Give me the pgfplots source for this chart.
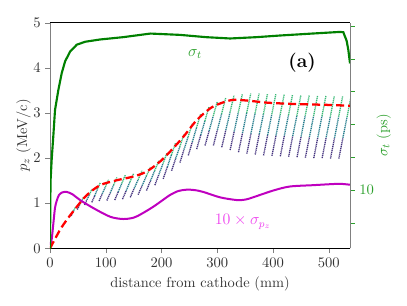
\documentclass[border=0pt]{standalone}
\usepackage{pgfplots}
\pgfplotsset{compat=1.18}
\definecolor{sgreen}{HTML}{008000}
\definecolor{lgreen}{HTML}{2CA02C}
\definecolor{mag}{HTML}{BF00BF}
\definecolor{lmag}{HTML}{EE44EE}
\begin{document}
\begin{tikzpicture}
\path[use as bounding box] (-37.5pt,-42.5pt) rectangle (267.75pt,186.25pt);
\begin{axis}[at={(0,0)}, anchor=south west, scale only axis,
  width=225pt, height=169.2pt,
  xmin=0, xmax=538, ymin=0, ymax=5,
  xtick={0,100,...,500}, ytick={0,1,...,5},
  xtick pos=bottom, ytick pos=left, tick align=outside,
  major tick length=3.5pt,
  separate axis lines,
  x axis line style={black},
  y axis line style={gray},
  ticklabel style={font=\fontsize{10.8}{12}\selectfont, text=black!80},
  label style={font=\fontsize{10.8}{12}\selectfont, text=black!80},
  xlabel={distance from cathode (mm)},
  ylabel={$p_z$ (MeV/c)},
  ylabel shift=-5pt,
  colormap/viridis, point meta min=0, point meta max=1,
  clip=true]
\addplot[mesh, point meta=explicit, line width=1.0pt, dash pattern=on 0.9pt off 0.55pt, unbounded coords=jump]
 table[meta index=2] {
x y m
38 0.72 0.0
40.3 0.78 0.3
42.7 0.84 0.55
45 0.90 0.8
nan nan nan
49 0.86 0.0
52.7 0.95 0.3
56.3 1.04 0.55
60 1.13 0.8
nan nan nan
62 0.96 0.0
66.3 1.08 0.3
70.7 1.19 0.55
75 1.31 0.8
nan nan nan
75 1.02 0.0
80 1.16 0.3
85 1.31 0.55
90 1.45 0.8
nan nan nan
88 1.05 0.0
93.7 1.21 0.3
99.3 1.36 0.55
105 1.52 0.8
nan nan nan
102 1.06 0.0
108 1.23 0.3
114 1.40 0.55
120 1.57 0.8
nan nan nan
116 1.07 0.0
122.3 1.25 0.3
128.7 1.44 0.55
135 1.62 0.8
nan nan nan
130 1.09 0.0
136.7 1.28 0.3
143.3 1.47 0.55
150 1.66 0.8
nan nan nan
144 1.13 0.0
151 1.33 0.3
158 1.52 0.55
165 1.72 0.8
nan nan nan
158 1.19 0.0
165.3 1.39 0.3
172.7 1.60 0.55
180 1.80 0.8
nan nan nan
173 1.28 0.0
180.3 1.50 0.3
187.7 1.72 0.55
195 1.94 0.8
nan nan nan
188 1.40 0.0
195.3 1.64 0.3
202.7 1.88 0.55
210 2.12 0.8
nan nan nan
203 1.54 0.0
210.3 1.80 0.3
217.7 2.07 0.55
225 2.33 0.8
nan nan nan
218 1.72 0.0
225.3 1.99 0.3
232.7 2.25 0.55
240 2.52 0.8
nan nan nan
233 1.90 0.0
240.3 2.19 0.3
247.7 2.47 0.55
255 2.76 0.8
nan nan nan
248 2.06 0.0
255.3 2.36 0.3
262.7 2.67 0.55
270 2.97 0.8
nan nan nan
263 2.20 0.0
270.3 2.51 0.3
277.7 2.82 0.55
285 3.13 0.8
nan nan nan
278 2.28 0.0
285.3 2.60 0.3
292.7 2.93 0.55
300 3.25 0.8
nan nan nan
293 2.28 0.0
300.3 2.63 0.3
307.7 2.98 0.55
315 3.33 0.8
nan nan nan
308 2.24 0.0
315.3 2.62 0.3
322.7 3.01 0.55
330 3.39 0.8
nan nan nan
323 2.18 0.0
330.3 2.59 0.3
337.7 3.01 0.55
345 3.42 0.8
nan nan nan
338 2.13 0.0
345.3 2.56 0.3
352.7 3.00 0.55
360 3.43 0.8
nan nan nan
353 2.10 0.0
360.3 2.54 0.3
367.7 2.99 0.55
375 3.43 0.8
nan nan nan
368 2.08 0.0
375.3 2.53 0.3
382.7 2.97 0.55
390 3.42 0.8
nan nan nan
383 2.06 0.0
390.3 2.51 0.3
397.7 2.97 0.55
405 3.42 0.8
nan nan nan
398 2.05 0.0
405.3 2.50 0.3
412.7 2.96 0.55
420 3.41 0.8
nan nan nan
413 2.04 0.0
420.3 2.50 0.3
427.7 2.95 0.55
435 3.41 0.8
nan nan nan
428 2.03 0.0
435.3 2.49 0.3
442.7 2.94 0.55
450 3.40 0.8
nan nan nan
443 2.02 0.0
450.3 2.48 0.3
457.7 2.94 0.55
465 3.40 0.8
nan nan nan
458 2.01 0.0
465.3 2.47 0.3
472.7 2.93 0.55
480 3.39 0.8
nan nan nan
473 2.00 0.0
480.3 2.46 0.3
487.7 2.93 0.55
495 3.39 0.8
nan nan nan
488 2.00 0.0
495.3 2.46 0.3
502.7 2.92 0.55
510 3.38 0.8
nan nan nan
503 1.99 0.0
510.3 2.45 0.3
517.7 2.92 0.55
525 3.38 0.8
nan nan nan
518 1.99 0.0
525.3 2.45 0.3
532.7 2.91 0.55
540 3.37 0.8
};
\addplot[mag, line width=1.5pt, smooth] coordinates {
(0,0.07) (3,0.2) (6,0.55) (9,0.9) (12,1.05) (16,1.18) (22,1.24) (30,1.25)
(40,1.20) (54,1.07) (78,0.89) (108,0.70) (131,0.65) (150,0.68) (165,0.77)
(185,0.92) (200,1.05) (215,1.18) (230,1.27) (245,1.30) (260,1.29) (275,1.25)
(305,1.13) (335,1.07) (350,1.08) (364,1.13) (400,1.28) (430,1.37) (472,1.40)
(500,1.42) (520,1.43) (538,1.41)};
\addplot[red, line width=1.7pt, dash pattern=on 6pt off 3pt, smooth] coordinates {
(0,0) (3,0.07) (18,0.41) (30,0.63) (48,0.92) (66,1.18) (90,1.40) (120,1.51)
(149,1.59) (173,1.70) (197,1.92) (215,2.14) (239,2.47) (263,2.84) (287,3.10)
(305,3.21) (328,3.29) (358,3.27) (388,3.23) (436,3.20) (496,3.18) (538,3.16)};
\node[text=lgreen, font=\fontsize{11.5}{13}\selectfont] at (axis cs:260,4.30) {$\sigma_t$};
\node[font=\Large\bfseries] at (axis cs:452,4.12) {(a)};
\node[text=lmag, font=\fontsize{11.5}{13}\selectfont] at (axis cs:346,0.59) {$10\times\sigma_{p_z}$};
\end{axis}
\begin{axis}[at={(0,0)}, anchor=south west, scale only axis,
  width=225pt, height=169.2pt,
  xmin=0, xmax=538, ymin=8.222, ymax=15.10,
  axis x line=none, axis y line*=right,
  y axis line style={gray, -},
  tick align=outside, major tick length=3.5pt, minor tick length=3.5pt,
  ytick={10}, minor ytick={9,11,12,13,14,15},
  every tick/.style={lgreen},
  ticklabel style={font=\fontsize{10.8}{12}\selectfont, text=lgreen},
  ylabel style={font=\fontsize{10.8}{12}\selectfont, text=lgreen},
  ylabel={$\sigma_t$ (ps)},
  ylabel shift=-5pt,
  clip=true]
\addplot[sgreen, line width=1.6pt] coordinates {
(0,8.0) (0.5,9.5) (1,10.28) (3,10.92) (6,11.66) (9,12.44) (15,13.05) (21,13.56)
(27,13.92) (36,14.22) (48,14.43) (63,14.52) (90,14.59) (131,14.66) (180,14.77)
(233,14.73) (280,14.66) (323,14.62) (370,14.66) (412,14.71) (470,14.77)
(520,14.82) (526,14.81) (532,14.55) (535,14.27) (538,13.86)};
\end{axis}
\end{tikzpicture}
\end{document}
